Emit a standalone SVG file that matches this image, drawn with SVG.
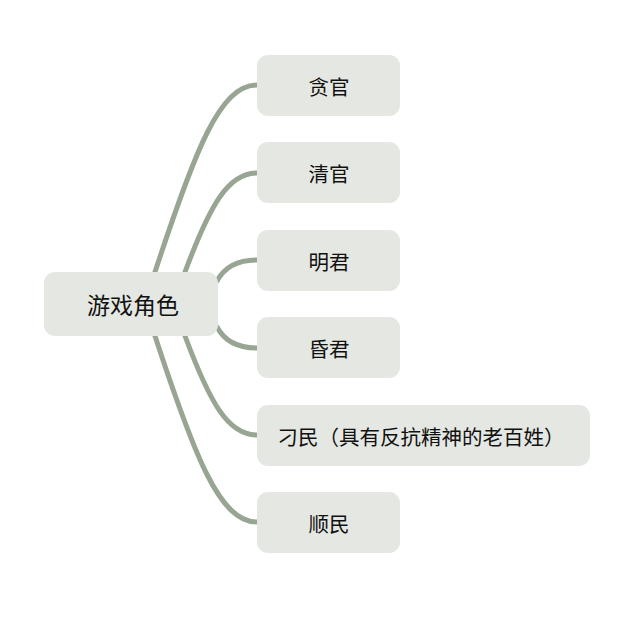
<svg xmlns="http://www.w3.org/2000/svg" width="640" height="621" viewBox="0 0 640 621">
<style>
.box{fill:#e4e7e2;}
.t{font-family:"Noto Sans CJK SC","Noto Sans",sans-serif;font-size:20.5px;font-weight:400;fill:#111111;text-anchor:middle;dominant-baseline:central;}
.root{font-size:23px;}
.c{fill:none;stroke:#97a592;stroke-width:5;stroke-linecap:round;}
</style>
<rect width="640" height="621" fill="#ffffff"/>
<g id="connectors">
<path class="c" d="M155,272 C195,150 220,85 257,85"/>
<path class="c" d="M185,272 C210,205 228,173 257,173"/>
<path class="c" d="M217,281 C225,266 238,260 257,260"/>
<path class="c" d="M217,327 C225,342 238,348 257,348"/>
<path class="c" d="M185,336 C210,403 228,435 257,435"/>
<path class="c" d="M155,336 C195,458 220,522 257,522"/>
</g>
<g id="root">
<rect class="box" x="44" y="272" width="174" height="64" rx="11"/>
<text class="t root" x="133" y="304">游戏角色</text>
</g>
<g id="n1">
<rect class="box" x="257" y="55" width="143" height="61" rx="11"/>
<text class="t" x="329" y="86">贪官</text>
</g>
<g id="n2">
<rect class="box" x="257" y="142" width="143" height="61" rx="11"/>
<text class="t" x="329" y="173">清官</text>
</g>
<g id="n3">
<rect class="box" x="257" y="230" width="143" height="61" rx="11"/>
<text class="t" x="329" y="261">明君</text>
</g>
<g id="n4">
<rect class="box" x="257" y="317" width="143" height="61" rx="11"/>
<text class="t" x="329" y="348">昏君</text>
</g>
<g id="n5">
<rect class="box" x="257" y="405" width="333" height="61" rx="11"/>
<text class="t" x="421" y="436">刁民（具有反抗精神的老百姓）</text>
</g>
<g id="n6">
<rect class="box" x="257" y="492" width="143" height="61" rx="11"/>
<text class="t" x="329" y="523">顺民</text>
</g>
</svg>
